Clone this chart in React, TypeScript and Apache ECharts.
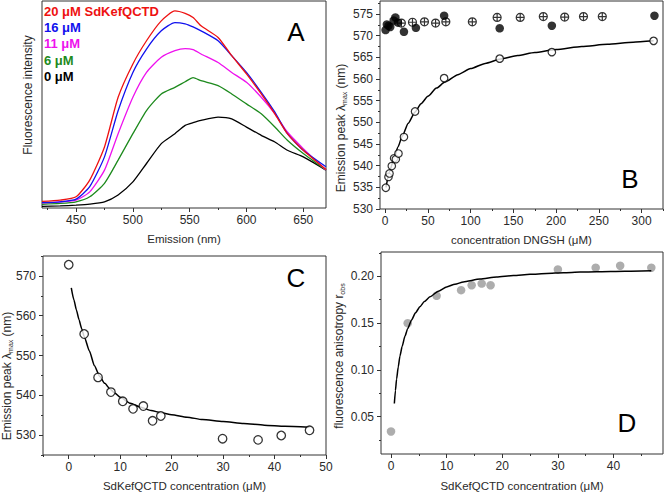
import React, { useEffect, useRef } from "react";
import * as echarts from "echarts";

// ---------- Panel A: emission spectra ----------
const wavelengthsA = [420, 436, 450, 462, 475, 487, 500, 512, 525, 537, 546, 553, 560, 575, 587, 600, 613, 625, 636, 650, 670];
const spectrum20 = [3.2, 3.8, 5.4, 13.5, 29.5, 53.5, 69.6, 80.8, 90.4, 95.2, 94.0, 92.0, 88.0, 82.4, 73.6, 64.8, 55.1, 45.5, 35.9, 27.9, 18.6];
const spectrum16 = [2.6, 3.0, 4.3, 10.3, 24.7, 47.0, 65.5, 76.8, 85.6, 89.6, 89.0, 87.5, 85.6, 80.8, 73.6, 65.5, 55.9, 46.3, 35.9, 27.9, 19.9];
const spectrum11 = [2.5, 3.0, 3.8, 7.8, 18.3, 35.9, 53.5, 65.5, 72.8, 76.0, 77.0, 76.5, 74.4, 70.3, 65.5, 60.7, 53.5, 45.5, 36.7, 28.7, 18.3];
const spectrum6 = [1.8, 2.2, 3.0, 5.4, 11.9, 23.1, 35.9, 47.1, 55.1, 58.3, 61.0, 63.0, 61.5, 59.1, 55.1, 50.3, 45.5, 39.1, 32.7, 26.3, 18.3];
const spectrum0 = [0.8, 1.0, 1.4, 1.9, 3.0, 6.3, 12.6, 21.5, 31.1, 35.9, 39.9, 41.2, 42.3, 43.9, 43.1, 39.1, 35.1, 31.9, 27.9, 24.7, 18.3];
const legendA = ["20 μM SdKefQCTD", "16 μM", "11 μM", "6 μM", "0 μM"];
const colorsA = ["#ee1111", "#1111ee", "#ee11ee", "#1d8a1d", "#000000"];
const ticksA = [450, 500, 550, 600, 650];
const minorA = [425, 475, 525, 575, 625];

// ---------- Panel B: emission peak vs DNGSH ----------
const openBX = [0.8, 3.9, 5.1, 7.8, 10.5, 12.5, 15.6, 22, 35, 69, 134, 195, 314];
const openBY = [534.9, 537.4, 538.2, 539.9, 541.7, 541.5, 542.8, 546.6, 552.5, 560.2, 564.7, 566.2, 568.8];
const fitBX = [1, 5, 10, 15, 20, 27, 35, 42, 50, 60, 70, 85, 100, 117, 135, 155, 175, 200, 230, 260, 290, 314];
const fitBY = [535.0, 538.5, 541.5, 544.3, 546.8, 549.8, 552.4, 554.3, 556.0, 557.9, 559.3, 561.0, 562.4, 563.6, 564.6, 565.4, 566.1, 566.8, 567.5, 568.0, 568.5, 568.8];
const filledBX = [0.5, 2, 4, 6, 10, 12, 15, 22, 36, 69, 134, 195, 315];
const filledBY = [571.3, 572.6, 572.3, 572.0, 573.5, 574.2, 573.0, 570.9, 571.8, 574.6, 571.7, 572.3, 574.6];
const crossBX = [19, 32, 46, 59, 71, 102, 131, 158, 185, 210, 232, 254];
const crossBY = [572.9, 573.1, 573.2, 572.9, 573.2, 573.2, 574.2, 574.2, 574.4, 574.3, 574.4, 574.4];
const ticksBX = [0, 50, 100, 150, 200, 250, 300];
const minorBX = [25, 75, 125, 175, 225, 275, 325];
const ticksBY = [530, 535, 540, 545, 550, 555, 560, 565, 570, 575];
const minorBY = [532.5, 537.5, 542.5, 547.5, 552.5, 557.5, 562.5, 567.5, 572.5, 577.5];

// ---------- Panel C: emission peak vs SdKefQCTD ----------
const concC = [0, 3, 5.7, 8.2, 10.5, 12.5, 14.5, 16.3, 17.9, 29.9, 36.8, 41.3, 46.8];
const peakC = [572.8, 555.4, 544.5, 540.8, 538.5, 536.6, 537.3, 533.6, 534.8, 529.1, 528.8, 529.9, 531.2];
const fitCX = [0.5, 1, 1.5, 2, 2.5, 3, 4, 5, 6, 7, 8, 9, 10, 12, 14, 16, 18, 20, 23, 26, 30, 34, 38, 42, 46.8];
const fitCY = [567, 564, 561.4, 559, 556.8, 554.8, 551.2, 547.4, 544.8, 543.0, 541.6, 540.5, 539.5, 538.0, 537.0, 536.2, 535.6, 535.1, 534.5, 533.9, 533.4, 532.9, 532.5, 532.2, 532.0];
const ticksCX = [0, 10, 20, 30, 40, 50];
const minorCX = [-5, 5, 15, 25, 35, 45];
const ticksCY = [530, 540, 550, 560, 570];
const minorCY = [525, 535, 545, 555, 565, 575];

// ---------- Panel D: anisotropy vs SdKefQCTD ----------
const concD = [0, 3, 8.2, 12.6, 14.5, 16.3, 17.9, 30, 36.8, 41.2, 46.8];
const anisoD = [0.0341, 0.1499, 0.1792, 0.1852, 0.1905, 0.1922, 0.1905, 0.2074, 0.2092, 0.2113, 0.2092];
const fitDX = [0.6, 0.8, 1.0, 1.3, 1.6, 2.0, 2.5, 3.0, 3.7, 4.4, 5.2, 6, 7, 8.5, 10, 11.5, 13, 16, 19, 22, 25, 28, 31, 34, 37, 42, 46.8];
const fitDY = [0.064, 0.078, 0.09, 0.103, 0.1146, 0.125, 0.1358, 0.144, 0.1534, 0.161, 0.1675, 0.173, 0.1781, 0.184, 0.1887, 0.1915, 0.194, 0.197, 0.1993, 0.2008, 0.2021, 0.2031, 0.2039, 0.2045, 0.2049, 0.2055, 0.206];
const ticksDX = [0, 10, 20, 30, 40];
const minorDX = [5, 15, 25, 35, 45];
const ticksDY = [0.05, 0.1, 0.15, 0.2];
const minorDY = [0.025, 0.075, 0.125, 0.175, 0.225];

const FONT = "'Liberation Sans', Arial, Helvetica, sans-serif";
const TXT = "#2a2a2a";
const AX = "#333333";

const zip = (xs: number[], ys: number[]) => xs.map((x, i) => [x, ys[i]]);

function axisPair(
  kind: "x" | "y",
  gridIndex: number,
  min: number,
  max: number,
  major: number[] | null,
  minor: number[] | null,
  extra: any = {},
  fmt?: (v: number) => string
) {
  const showMajor = !!major;
  const main: any = {
    type: "value",
    gridIndex,
    min,
    max,
    position: kind === "x" ? "bottom" : "left",
    splitLine: { show: false },
    axisLine: { show: false, onZero: false },
    axisTick: showMajor
      ? { show: true, customValues: major, length: 4, lineStyle: { color: AX, width: 1 } }
      : { show: false },
    axisLabel: showMajor
      ? {
          show: true,
          customValues: major,
          margin: kind === "x" ? 6 : 7,
          fontSize: 12,
          color: TXT,
          fontFamily: FONT,
          formatter: fmt ? (v: number) => fmt(v) : (v: number) => String(v),
        }
      : { show: false },
    ...extra,
  };
  const sub: any = {
    type: "value",
    gridIndex,
    min,
    max,
    position: kind === "x" ? "bottom" : "left",
    splitLine: { show: false },
    axisLine: { show: false, onZero: false },
    axisLabel: { show: false },
    axisTick: minor
      ? { show: true, customValues: minor, length: 2, lineStyle: { color: AX, width: 1 } }
      : { show: false },
  };
  return [main, sub];
}

const xName = (name: string, gap: number) => ({
  name,
  nameLocation: "middle",
  nameGap: gap,
  nameTextStyle: { fontSize: 11.5, color: TXT, fontFamily: FONT },
});

const crossSymbol =
  "path://M10,0 A10,10 0 1,1 10,20 A10,10 0 1,1 10,0 Z M0,10 L20,10 M10,0 L10,20";

export default function App() {
  const ref = useRef<HTMLDivElement>(null);
  useEffect(() => {
    if (!ref.current) return;
    const chart = echarts.init(ref.current, undefined, { renderer: "svg" });

    const grids = [
      { left: 42, top: 1, width: 284, height: 207 },
      { left: 380, top: 1, width: 283, height: 208 },
      { left: 43, top: 256, width: 283, height: 200 },
      { left: 381, top: 252, width: 282, height: 203 },
    ].map((g) => ({ ...g, show: true, borderColor: AX, borderWidth: 1, backgroundColor: "transparent" }));

    const xAxis = [
      ...axisPair("x", 0, 420, 670, ticksA, minorA, xName("Emission (nm)", 25)),
      ...axisPair("x", 1, -6, 325, ticksBX, minorBX, xName("concentration DNGSH (μM)", 25)),
      ...axisPair("x", 2, -5, 50, ticksCX, minorCX, xName("SdKefQCTD concentration (μM)", 25)),
      ...axisPair("x", 3, -1.8, 48.9, ticksDX, minorDX, xName("SdKefQCTD concentration (μM)", 26)),
    ];
    const yAxis = [
      ...axisPair("y", 0, 0, 100, null, null),
      ...axisPair("y", 1, 530, 578, ticksBY, minorBY),
      ...axisPair("y", 2, 525, 575, ticksCY, minorCY),
      ...axisPair("y", 3, 0.01, 0.226, ticksDY, minorDY, {}, (v) => v.toFixed(2)),
    ];

    const spectra = [spectrum20, spectrum16, spectrum11, spectrum6, spectrum0];
    const series: any[] = [];
    for (let i = spectra.length - 1; i >= 0; i--) {
      series.push({
        type: "line",
        name: legendA[i],
        xAxisIndex: 0,
        yAxisIndex: 0,
        data: zip(wavelengthsA, spectra[i]),
        showSymbol: false,
        smooth: 0.2,
        lineStyle: { color: colorsA[i], width: 1.3 },
        itemStyle: { color: colorsA[i] },
      });
    }
    const fitLine = (ax: number, xs: number[], ys: number[], z = 2) => ({
      type: "line",
      xAxisIndex: ax,
      yAxisIndex: ax,
      data: zip(xs, ys),
      showSymbol: false,
      smooth: 0.2,
      smoothMonotone: "x",
      lineStyle: { color: "#000", width: 1.5 },
      z,
    });
    // Panel B
    series.push(fitLine(2, fitBX, fitBY));
    series.push({
      type: "scatter",
      xAxisIndex: 2,
      yAxisIndex: 2,
      data: zip(crossBX, crossBY),
      symbol: crossSymbol,
      symbolSize: 8,
      itemStyle: { color: "#fff", borderColor: "#000", borderWidth: 1.2 },
    });
    series.push({
      type: "scatter",
      xAxisIndex: 2,
      yAxisIndex: 2,
      data: zip(filledBX, filledBY),
      symbol: "circle",
      symbolSize: 8.5,
      itemStyle: { color: "#000" },
    });
    series.push({
      type: "scatter",
      xAxisIndex: 2,
      yAxisIndex: 2,
      data: zip(openBX, openBY),
      symbol: "circle",
      symbolSize: 7.5,
      itemStyle: { color: "#fff", borderColor: "#000", borderWidth: 1.2 },
    });
    // Panel C
    series.push(fitLine(4, fitCX, fitCY));
    series.push({
      type: "scatter",
      xAxisIndex: 4,
      yAxisIndex: 4,
      data: zip(concC, peakC),
      symbol: "circle",
      symbolSize: 8.5,
      itemStyle: { color: "#fff", borderColor: "#000", borderWidth: 1.3 },
    });
    // Panel D
    series.push({
      type: "scatter",
      xAxisIndex: 6,
      yAxisIndex: 6,
      data: zip(concD, anisoD),
      symbol: "circle",
      symbolSize: 8.5,
      itemStyle: { color: "#999999" },
    });
    series.push(fitLine(6, fitDX, fitDY, 5));

    const legendY = [11.7, 27.3, 43, 60, 76];
    const graphic: any[] = legendA.map((t, i) => ({
      type: "text",
      x: 44,
      y: legendY[i],
      style: {
        text: t,
        fill: colorsA[i],
        font: `bold 13px ${FONT}`,
        textAlign: "left",
        textVerticalAlign: "middle",
      },
    }));
    const letters: [string, number, number][] = [
      ["A", 296, 32],
      ["B", 630, 179],
      ["C", 296, 278],
      ["D", 627, 423],
    ];
    letters.forEach(([t, x, y]) =>
      graphic.push({
        type: "text",
        x,
        y,
        style: { text: t, fill: "#000", font: `26px ${FONT}`, textAlign: "center", textVerticalAlign: "middle" },
      })
    );
    const yTitle = (x: number, y: number, text: string) => ({
      type: "text",
      x,
      y,
      rotation: Math.PI / 2,
      style: {
        text,
        fill: TXT,
        fontFamily: FONT,
        fontSize: 12,
        textAlign: "center",
        textVerticalAlign: "middle",
        rich: {
          a: { fontSize: 12, fontFamily: FONT, fill: TXT, lineHeight: 14 },
          s: { fontSize: 7, fontFamily: FONT, fill: TXT, lineHeight: 14, verticalAlign: "bottom", padding: [6, 0, 0, 0] },
        },
      },
    });
    graphic.push(yTitle(28, 95, "{a|Fluorescence intensity}"));
    graphic.push(yTitle(341, 128, "{a|Emission peak λ}{s|max}{a| (nm)}"));
    graphic.push(yTitle(7, 376, "{a|Emission peak λ}{s|max}{a| (nm)}"));
    graphic.push(yTitle(339, 356, "{a|fluorescence anisotropy r}{s|obs}"));

    chart.setOption({
      animation: false,
      backgroundColor: "#ffffff",
      grid: grids,
      xAxis,
      yAxis,
      series,
      graphic,
    });
    return () => chart.dispose();
  }, []);

  return (
    <div
      ref={ref}
      style={{ position: "fixed", left: 0, top: 0, width: 664, height: 493, background: "#fff" }}
    />
  );
}
